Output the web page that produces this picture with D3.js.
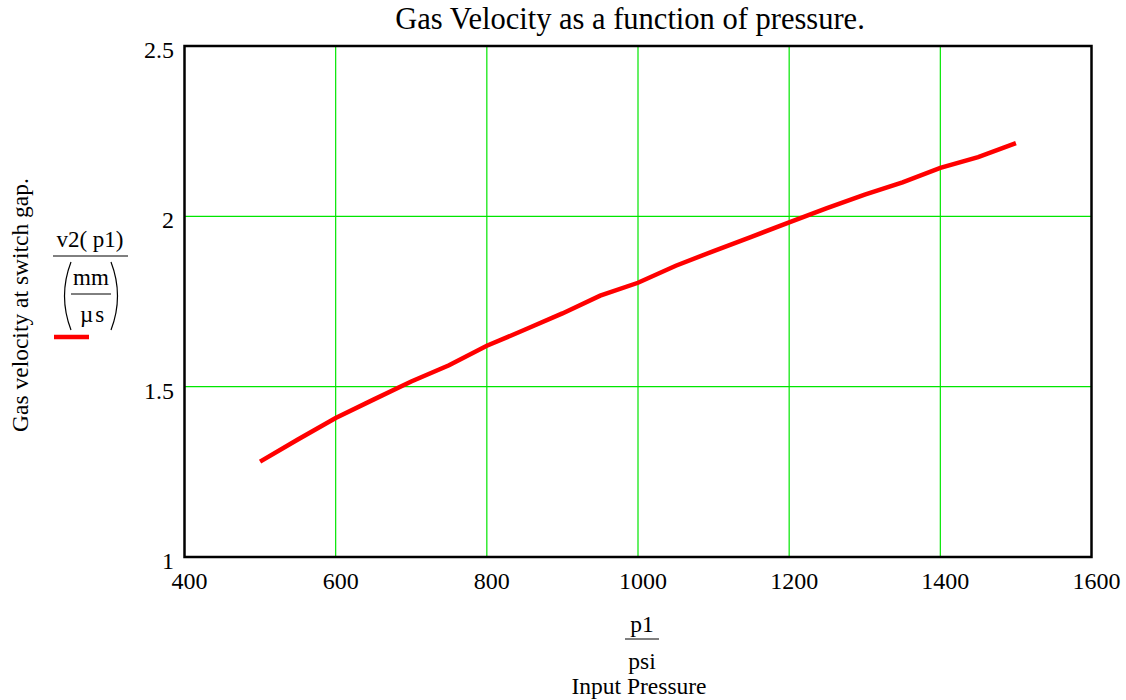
<!DOCTYPE html>
<html>
<head>
<meta charset="utf-8">
<script src="https://cdn.jsdelivr.net/npm/d3@7.9.0/dist/d3.min.js"></script>
<style>
  body { margin: 0; background: #fff; }
  svg { font-family: "Liberation Serif", "Times New Roman", serif; }
</style>
</head>
<body>
<svg width="1126" height="700"></svg>
<script>
// pressure (psi) and gas velocity (mm/us)
const pressure = [500, 550, 600, 650, 700, 750, 800, 850, 900, 950, 1000,
  1050, 1100, 1150, 1200, 1250, 1300, 1350, 1400, 1450, 1500];
const velocity = [1.28, 1.345, 1.408, 1.462, 1.515, 1.563, 1.620, 1.667, 1.715, 1.767, 1.805,
  1.855, 1.898, 1.940, 1.982, 2.024, 2.064, 2.100, 2.142, 2.174, 2.215];
const xTicks = [400, 600, 800, 1000, 1200, 1400, 1600];
const yTicks = [1, 1.5, 2, 2.5];

const svg = d3.select('svg');
const plotL = 184.5, plotR = 1091.5, plotT = 46, plotB = 557;

let x = d3.scaleLinear().domain([400, 1600]).range([plotL, plotR]);
let y = d3.scaleLinear().domain([1, 2.5]).range([plotB, plotT]);

// grid
svg.append('g')
  .selectAll('line')
  .data(xTicks.slice(1, -1))
  .join('line')
  .attr('x1', d => x(d)).attr('x2', d => x(d))
  .attr('y1', plotT).attr('y2', plotB)
  .attr('stroke', '#00e600').attr('stroke-width', 1.2);

svg.append('g')
  .selectAll('line')
  .data(yTicks.slice(1, -1))
  .join('line')
  .attr('x1', plotL).attr('x2', plotR)
  .attr('y1', d => y(d)).attr('y2', d => y(d))
  .attr('stroke', '#00e600').attr('stroke-width', 1.2);

// data line
let line = d3.line()
  .x((d, i) => x(pressure[i]))
  .y(d => y(d));

svg.append('path')
  .attr('d', line(velocity))
  .attr('fill', 'none')
  .attr('stroke', '#ff0000')
  .attr('stroke-width', 4.5);

// frame
svg.append('rect')
  .attr('x', plotL).attr('y', plotT)
  .attr('width', plotR - plotL).attr('height', plotB - plotT)
  .attr('fill', 'none').attr('stroke', '#000').attr('stroke-width', 2.5);

// tick labels
svg.append('g')
  .selectAll('text')
  .data(xTicks)
  .join('text')
  .attr('x', d => x(d) + 5)
  .attr('y', 589)
  .attr('text-anchor', 'middle')
  .attr('font-size', 24)
  .text(d => d);

svg.append('g')
  .selectAll('text')
  .data(yTicks)
  .join('text')
  .attr('x', 174)
  .attr('y', d => y(d) + 12)
  .attr('text-anchor', 'end')
  .attr('font-size', 24)
  .text(d => d);

// title
svg.append('text')
  .attr('x', 630).attr('y', 29)
  .attr('text-anchor', 'middle')
  .attr('font-size', 30.5)
  .text('Gas Velocity as a function of pressure.');

// y axis label
svg.append('text')
  .attr('transform', 'translate(28,305) rotate(-90)')
  .attr('text-anchor', 'middle')
  .attr('font-size', 23.5)
  .text('Gas velocity at switch gap.');

// legend fraction
let lg = svg.append('g').attr('font-size', 23);
lg.append('text').attr('x', 90).attr('y', 247).attr('text-anchor', 'middle').text('v2( p1)');
lg.append('line').attr('x1', 53).attr('x2', 128).attr('y1', 256).attr('y2', 256)
  .attr('stroke', '#000').attr('stroke-width', 1);
lg.append('text').attr('x', 91).attr('y', 285).attr('text-anchor', 'middle').text('mm');
lg.append('line').attr('x1', 71).attr('x2', 111).attr('y1', 294).attr('y2', 294)
  .attr('stroke', '#000').attr('stroke-width', 1);
lg.append('text').attr('x', 93).attr('y', 322).attr('text-anchor', 'middle')
  .attr('letter-spacing', 2).text('\u00b5s');
lg.append('path').attr('d', 'M71,262 Q58,296 71,330').attr('fill', 'none').attr('stroke', '#000').attr('stroke-width', 1.2);
lg.append('path').attr('d', 'M111,262 Q124,296 111,330').attr('fill', 'none').attr('stroke', '#000').attr('stroke-width', 1.2);
lg.append('line').attr('x1', 54).attr('x2', 89).attr('y1', 337).attr('y2', 337)
  .attr('stroke', '#ff0000').attr('stroke-width', 4.5);

// x axis label
let xl = svg.append('g').attr('font-size', 23.5).attr('text-anchor', 'middle');
xl.append('text').attr('x', 642).attr('y', 632).text('p1');
xl.append('line').attr('x1', 625).attr('x2', 659).attr('y1', 639).attr('y2', 639)
  .attr('stroke', '#000').attr('stroke-width', 1);
xl.append('text').attr('x', 642).attr('y', 669).text('psi');
xl.append('text').attr('x', 639).attr('y', 694).text('Input Pressure');
</script>
</body>
</html>
